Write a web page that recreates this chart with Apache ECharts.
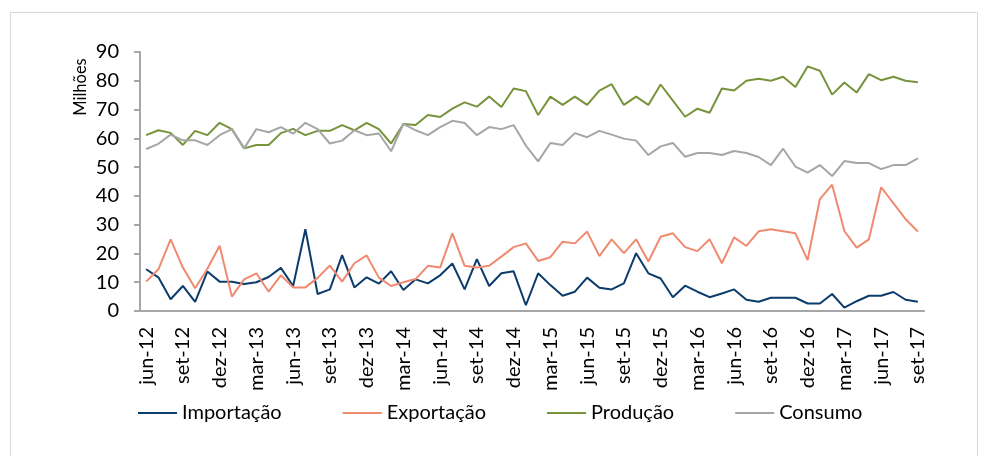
<!DOCTYPE html>
<html>
<head>
<meta charset="utf-8">
<script src="https://cdn.jsdelivr.net/npm/echarts@6/dist/echarts.min.js"></script>
<style>
  html, body { margin: 0; padding: 0; background: #fff; }
  #grafico { width: 988px; height: 456px; }
</style>
</head>
<body>
<div id="grafico"></div>
<script>
// meses (jun-12 .. set-17)
var meses = [
  'jun-12','jul-12','ago-12','set-12','out-12','nov-12','dez-12',
  'jan-13','fev-13','mar-13','abr-13','mai-13','jun-13','jul-13','ago-13','set-13','out-13','nov-13','dez-13',
  'jan-14','fev-14','mar-14','abr-14','mai-14','jun-14','jul-14','ago-14','set-14','out-14','nov-14','dez-14',
  'jan-15','fev-15','mar-15','abr-15','mai-15','jun-15','jul-15','ago-15','set-15','out-15','nov-15','dez-15',
  'jan-16','fev-16','mar-16','abr-16','mai-16','jun-16','jul-16','ago-16','set-16','out-16','nov-16','dez-16',
  'jan-17','fev-17','mar-17','abr-17','mai-17','jun-17','jul-17','ago-17','set-17'
];

// valores em milhões
var importacao = [
  14.5, 11.7, 4.1, 8.7, 3.2, 13.7, 10.2, 10.2, 9.4, 10.0, 11.8, 15.0, 8.7, 28.4, 5.9, 7.5,
  19.4, 8.2, 11.7, 9.5, 13.8, 7.3, 11.0, 9.6, 12.4, 16.5, 7.5, 18.0, 8.7, 13.1, 13.8, 2.0,
  13.1, 9.0, 5.3, 6.7, 11.6, 8.1, 7.5, 9.6, 20.1, 13.1, 11.3, 4.8, 8.8, 6.7, 4.8, 6.1,
  7.5, 3.9, 3.2, 4.6, 4.6, 4.6, 2.6, 2.6, 5.9, 1.2, 3.4, 5.3, 5.3, 6.6, 3.9, 3.2
];
var exportacao = [
  10.2, 14.5, 24.9, 15.1, 7.9, 14.7, 22.7, 5.0, 11.0, 13.1, 6.7, 12.4, 8.2, 8.2, 11.5, 15.8,
  10.2, 16.6, 19.3, 11.6, 8.7, 10.0, 11.1, 15.7, 15.1, 27.0, 15.7, 15.1, 15.7, 18.9, 22.2, 23.5,
  17.4, 18.7, 24.1, 23.5, 27.6, 19.1, 24.9, 20.1, 24.9, 17.2, 25.8, 27.0, 22.2, 20.8, 24.9, 16.6,
  25.6, 22.6, 27.7, 28.4, 27.7, 27.0, 17.7, 38.9, 43.9, 27.8, 22.0, 24.9, 43.0, 37.5, 31.9, 27.6
];
var producao = [
  61.1, 62.8, 61.9, 57.7, 62.6, 61.1, 65.4, 63.2, 56.5, 57.7, 57.7, 61.8, 63.3, 61.1, 62.6, 62.6,
  64.6, 62.8, 65.4, 63.2, 58.2, 65.0, 64.6, 68.1, 67.4, 70.3, 72.5, 71.0, 74.5, 70.9, 77.3, 76.4,
  68.1, 74.5, 71.6, 74.5, 71.6, 76.6, 78.8, 71.6, 74.5, 71.6, 78.7, 73.1, 67.5, 70.3, 68.9, 77.3,
  76.6, 80.0, 80.7, 80.0, 81.4, 77.8, 85.0, 83.5, 75.2, 79.4, 75.9, 82.3, 80.2, 81.4, 80.0, 79.5
];
var consumo = [
  56.3, 58.1, 61.3, 59.3, 59.3, 57.7, 61.1, 63.2, 56.5, 63.2, 62.1, 63.9, 61.6, 65.4, 63.2, 58.2,
  59.2, 62.8, 61.1, 61.7, 55.5, 65.0, 62.8, 61.1, 63.9, 66.1, 65.3, 61.1, 63.9, 63.2, 64.6, 57.5,
  52.0, 58.4, 57.7, 61.8, 60.4, 62.6, 61.3, 59.9, 59.2, 54.2, 57.2, 58.4, 53.6, 54.9, 54.9, 54.2,
  55.6, 54.9, 53.5, 50.7, 56.4, 50.2, 48.1, 50.7, 46.9, 52.1, 51.4, 51.4, 49.3, 50.7, 50.7, 53.0
];

var fonte = 'Lato, "Open Sans", sans-serif';
var corEixo = '#a6a6a6';

function serie(nome, dados, cor) {
  return {
    name: nome,
    type: 'line',
    data: dados,
    symbol: 'none',
    smooth: false,
    lineStyle: { color: cor, width: 2 },
    itemStyle: { color: cor }
  };
}

var myChart = echarts.init(document.getElementById('grafico'), null, { renderer: 'canvas' });
var option = {
  animation: false,
  backgroundColor: '#fff',
  graphic: [{
    type: 'rect',
    shape: { x: 10.5, y: 12.5, width: 967, height: 470 },
    style: { fill: 'none', stroke: '#d9d9d9', lineWidth: 1 },
    silent: true
  }, {
    // titulo do eixo y
    type: 'text',
    x: 81,
    y: 87,
    rotation: Math.PI / 2,
    style: {
      text: 'Milhões',
      font: '16.5px Lato, "Open Sans", sans-serif',
      fill: '#000',
      textAlign: 'center',
      textVerticalAlign: 'middle'
    },
    silent: true
  }],
  grid: { left: 140, right: 64, top: 52, bottom: 145, containLabel: false },
  legend: {
    bottom: 28,
    left: 133,
    itemGap: 61,
    itemWidth: 39,
    itemHeight: 2,
    icon: 'rect',
    textStyle: { fontFamily: fonte, fontSize: 20, color: '#000' },
    data: ['Importação', 'Exportação', 'Produção', 'Consumo']
  },
  xAxis: {
    type: 'category',
    data: meses,
    boundaryGap: true,
    axisLine: { lineStyle: { color: corEixo, width: 2 } },
    axisTick: { interval: 2, length: 5, lineStyle: { color: corEixo, width: 2 } },
    axisLabel: {
      interval: 2,
      rotate: 90,
      margin: 16,
      fontFamily: fonte,
      fontSize: 20,
      color: '#000'
    },
    splitLine: { show: false }
  },
  yAxis: {
    type: 'value',
    min: 0,
    max: 90,
    interval: 10,
    axisLine: { show: true, lineStyle: { color: corEixo, width: 2 } },
    axisTick: { show: true, length: 6, lineStyle: { color: corEixo, width: 2 } },
    axisLabel: { margin: 21, fontFamily: fonte, fontSize: 20, color: '#000' },
    splitLine: { show: false }
  },
  series: [
    serie('Importação', importacao, '#0b3c6b'),
    serie('Exportação', exportacao, '#ef8a70'),
    serie('Produção', producao, '#77933c'),
    serie('Consumo', consumo, '#a6a6a6')
  ]
};
myChart.setOption(option);
</script>
</body>
</html>
